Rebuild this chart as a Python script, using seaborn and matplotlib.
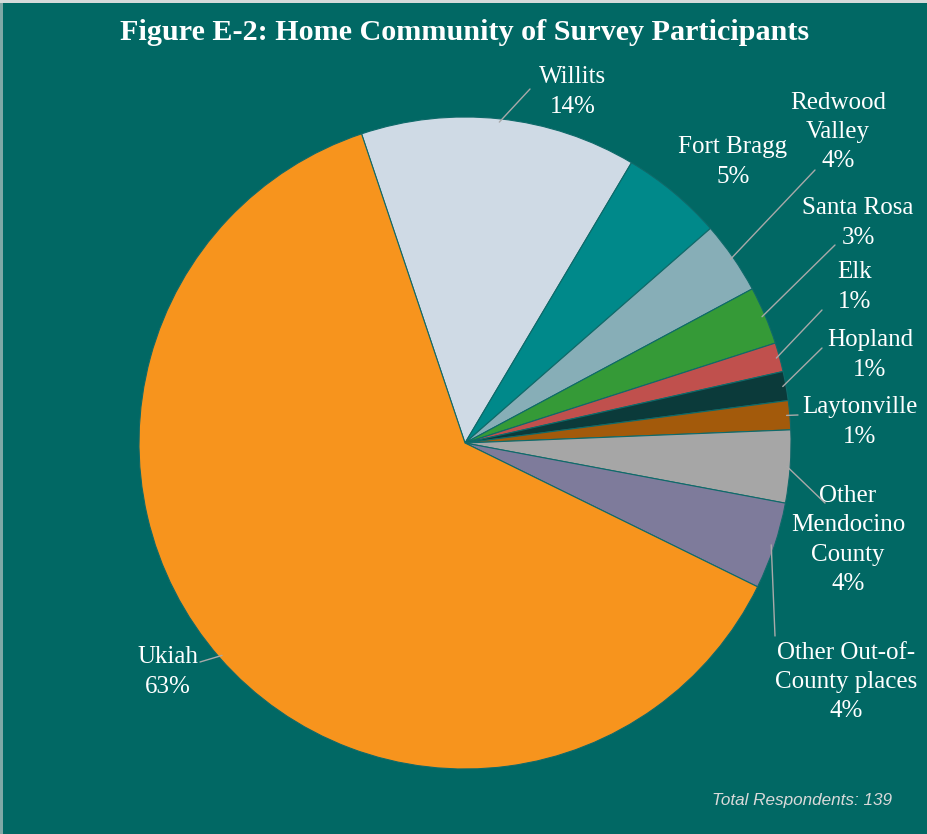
import numpy as np
import matplotlib
matplotlib.use("Agg")
import matplotlib.pyplot as plt
from matplotlib.patches import Rectangle
import seaborn as sns

# Survey counts (139 respondents)
communities = ["Willits", "Fort Bragg", "Redwood\nValley", "Santa Rosa", "Elk",
               "Hopland", "Laytonville", "Other\nMendocino\nCounty",
               "Other Out-of-\nCounty places", "Ukiah"]
counts = [19, 7, 5, 4, 2, 2, 2, 5, 6, 87]
slice_colors = ["#CFDAE5", "#00898A", "#87AEB7", "#359A37", "#C0504D",
                "#0B3A3A", "#A35A0B", "#A6A6A6", "#7E7B9B", "#F7941D"]

BG = "#016864"

# label layout, in image pixels: (text centre x, text centre y, line end x, line end y)
label_layout = {
    "Willits": (573, 92, 530, 89),
    "Fort Bragg": (733, 162, None, None),
    "Redwood\nValley": (838, 132, 815, 170),
    "Santa Rosa": (858, 223, 835, 245),
    "Elk": (855, 287, 822, 310),
    "Hopland": (870, 355, 822, 348),
    "Laytonville": (860, 422, 798, 415),
    "Other\nMendocino\nCounty": (848, 540, 825, 503),
    "Other Out-of-\nCounty places": (846, 682, 775, 636),
    "Ukiah": (168, 672, 200, 662),
}

W, H = 928, 834
CX, CY, R = 465, 443, 326


def to_data(px, py):
    return (px - CX) / R, (CY - py) / R


def main():
    sns.set_style("white")
    plt.rcParams["font.family"] = ["Liberation Serif", "DejaVu Serif"]

    fig = plt.figure(figsize=(W / 100, H / 100), dpi=100, facecolor=BG)
    ax = fig.add_axes([0, 0, 1, 1])
    ax.set_facecolor(BG)

    palette = sns.color_palette(slice_colors)
    wedges, _ = ax.pie(counts, colors=palette, startangle=108.5, counterclock=False,
                       radius=1.0, wedgeprops=dict(edgecolor="#0F6A6A", linewidth=0.8))

    total = sum(counts)
    for w, name, n in zip(wedges, communities, counts):
        tx, ty, lx, ly = label_layout[name]
        pct = f"{round(100 * n / total):.0f}%"
        x, y = to_data(tx, ty)
        ax.text(x, y, f"{name}\n{pct}", ha="center", va="center", color="white",
                fontsize=18, linespacing=1.42)
        if lx is not None:
            mid = np.deg2rad((w.theta1 + w.theta2) / 2)
            ex, ey = np.cos(mid) * 0.99, np.sin(mid) * 0.99
            ax.annotate("", xy=(ex, ey), xytext=to_data(lx, ly),
                        arrowprops=dict(arrowstyle="-", color="#A9A9A9", lw=1.0,
                                        shrinkA=0, shrinkB=0))

    ax.set_xlim(-CX / R, (W - CX) / R)
    ax.set_ylim(-(H - CY) / R, CY / R)
    ax.set_aspect("equal")
    ax.axis("off")

    # thin light frame edges seen at the top and left of the original
    fig.add_artist(Rectangle((0, 1 - 3 / H), 1, 3 / H, transform=fig.transFigure,
                             facecolor="#D6DADA", edgecolor="none"))
    fig.add_artist(Rectangle((0, 0), 3 / W, 1 - 3 / H, transform=fig.transFigure,
                             facecolor="#7FA8A6", edgecolor="none"))

    fig.text(465 / W, 1 - 33 / H, "Figure E-2: Home Community of Survey Participants",
             ha="center", va="center", color="white", fontsize=21.7, fontweight="bold")
    fig.text(802 / W, 1 - 800 / H, "Total Respondents: 139", ha="center", va="center",
             color="#D9D9D9", fontsize=12.3, style="italic", family="Liberation Sans")

    fig.savefig("out.png", dpi=100, facecolor=BG)


if __name__ == "__main__":
    main()
